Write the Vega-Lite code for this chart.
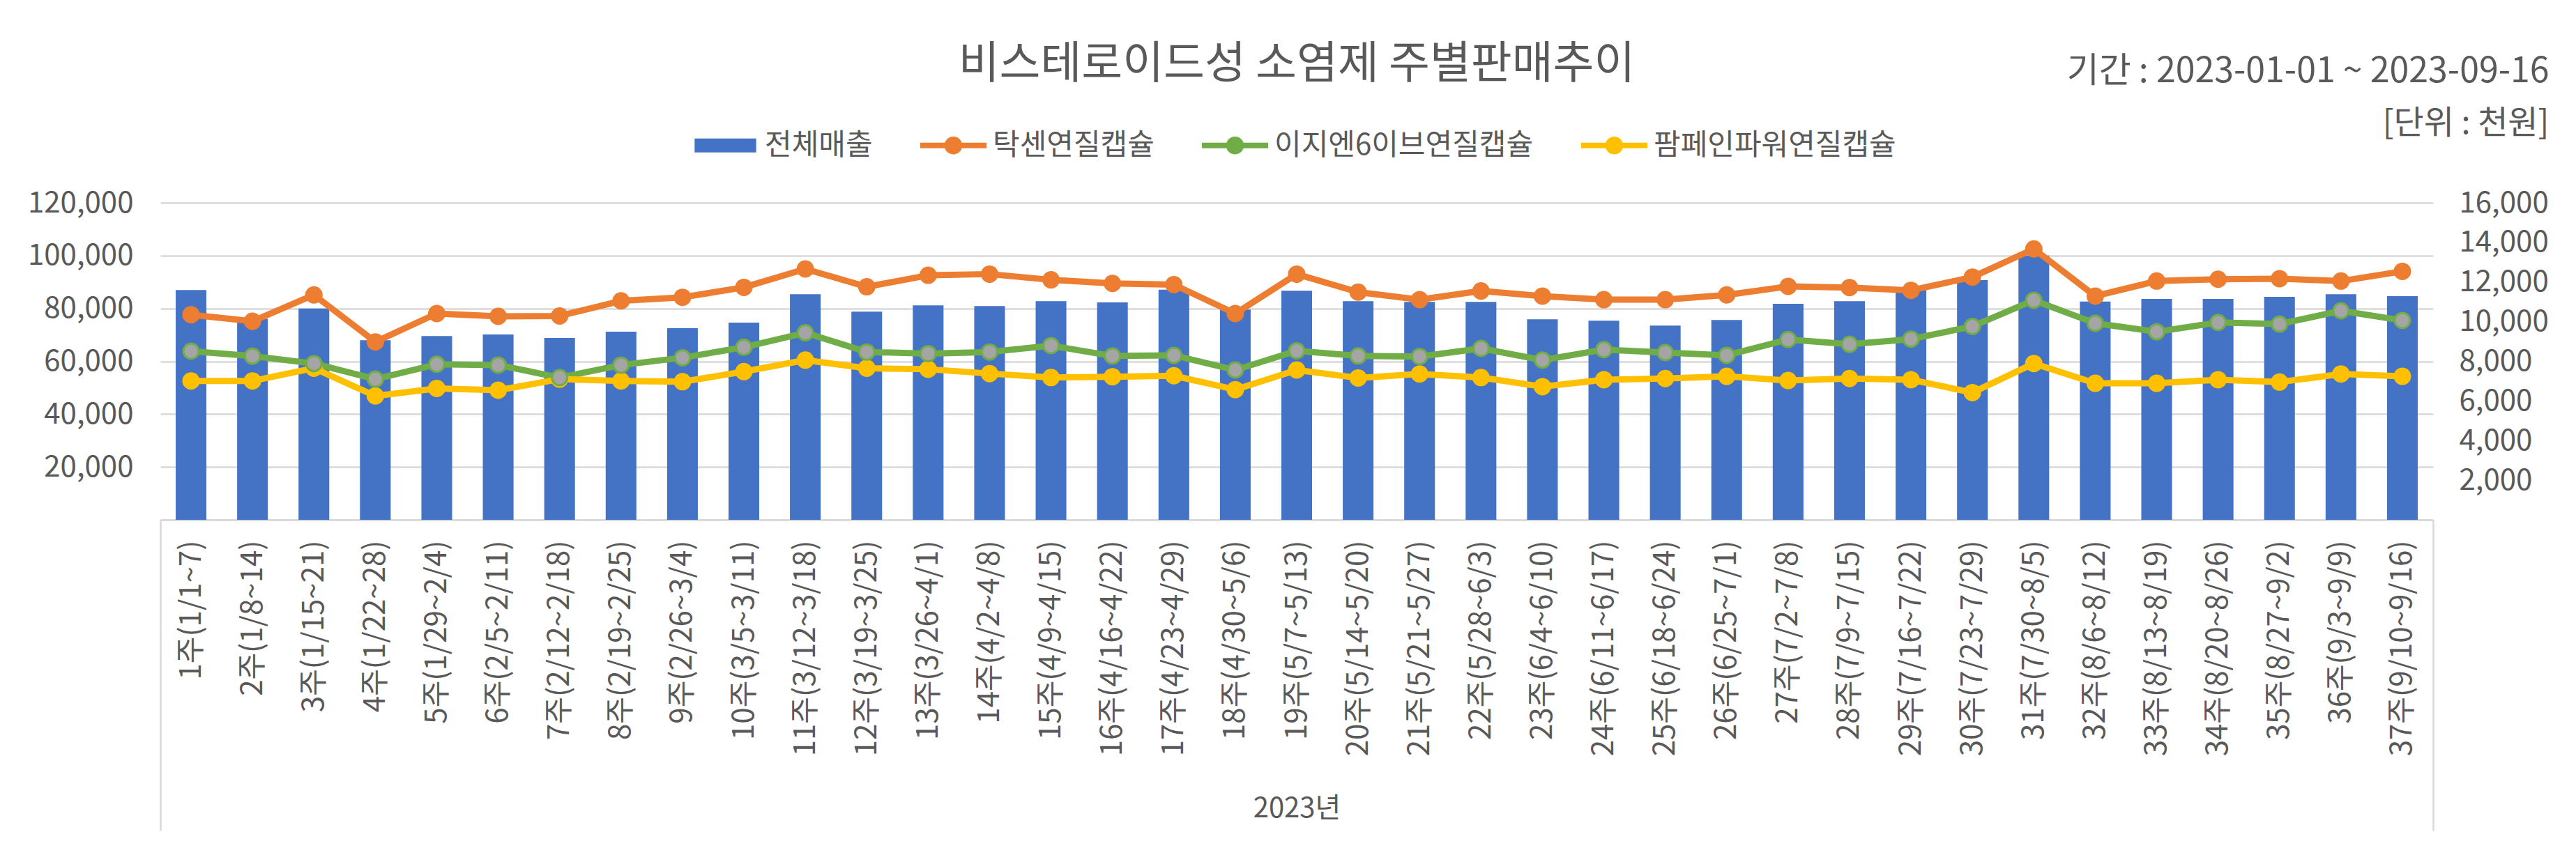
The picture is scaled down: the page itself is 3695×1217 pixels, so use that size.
{
  "$schema": "https://vega.github.io/schema/vega-lite/v6.json",
  "autosize": "none",
  "width": 3260,
  "height": 455,
  "padding": {"left": 230, "top": 291, "right": 205, "bottom": 471},
  "background": "white",
  "title": {"text": "비스테로이드성 소염제 주별판매추이", "fontSize": 64, "fontWeight": "normal", "color": "#595959", "anchor": "middle", "font": "Noto Sans CJK KR", "dy": 52},
  "config": {
    "font": "Noto Sans CJK KR",
    "view": {"stroke": null},
    "axis": {"labelColor": "#595959", "titleColor": "#595959", "titleFontWeight": "normal", "labelFont": "Noto Sans CJK KR", "titleFont": "Noto Sans CJK KR"}
  },
  "data": {"values": [
    {"주차": "1주(1/1~7)", "전체매출": 87000, "탁센연질캡슐": 10350, "이지엔6이브연질캡슐": 8510, "팜페인파워연질캡슐": 7010},
    {"주차": "2주(1/8~14)", "전체매출": 76100, "탁센연질캡슐": 10020, "이지엔6이브연질캡슐": 8260, "팜페인파워연질캡슐": 7010},
    {"주차": "3주(1/15~21)", "전체매출": 80000, "탁센연질캡슐": 11350, "이지엔6이브연질캡슐": 7890, "팜페인파워연질캡슐": 7650},
    {"주차": "4주(1/22~28)", "전체매출": 67960, "탁센연질캡슐": 8980, "이지엔6이브연질캡슐": 7100, "팜페인파워연질캡슐": 6250},
    {"주차": "5주(1/29~2/4)", "전체매출": 69550, "탁센연질캡슐": 10410, "이지엔6이브연질캡슐": 7850, "팜페인파워연질캡슐": 6630},
    {"주차": "6주(2/5~2/11)", "전체매출": 70150, "탁센연질캡슐": 10270, "이지엔6이브연질캡슐": 7810, "팜페인파워연질캡슐": 6540},
    {"주차": "7주(2/12~2/18)", "전체매출": 68830, "탁센연질캡슐": 10290, "이지엔6이브연질캡슐": 7180, "팜페인파워연질캡슐": 7100},
    {"주차": "8주(2/19~2/25)", "전체매출": 71200, "탁센연질캡슐": 11050, "이지엔6이브연질캡슐": 7810, "팜페인파워연질캡슐": 7010},
    {"주차": "9주(2/26~3/4)", "전체매출": 72530, "탁센연질캡슐": 11230, "이지엔6이브연질캡슐": 8180, "팜페인파워연질캡슐": 6970},
    {"주차": "10주(3/5~3/11)", "전체매출": 74640, "탁센연질캡슐": 11730, "이지엔6이브연질캡슐": 8710, "팜페인파워연질캡슐": 7480},
    {"주차": "11주(3/12~3/18)", "전체매출": 85360, "탁센연질캡슐": 12660, "이지엔6이브연질캡슐": 9440, "팜페인파워연질캡슐": 8060},
    {"주차": "12주(3/19~3/25)", "전체매출": 78770, "탁센연질캡슐": 11760, "이지엔6이브연질캡슐": 8470, "팜페인파워연질캡슐": 7650},
    {"주차": "13주(3/26~4/1)", "전체매출": 81150, "탁센연질캡슐": 12340, "이지엔6이브연질캡슐": 8390, "팜페인파워연질캡슐": 7600},
    {"주차": "14주(4/2~4/8)", "전체매출": 80880, "탁센연질캡슐": 12400, "이지엔6이브연질캡슐": 8470, "팜페인파워연질캡슐": 7380},
    {"주차": "15주(4/9~4/15)", "전체매출": 82730, "탁센연질캡슐": 12110, "이지엔6이브연질캡슐": 8790, "팜페인파워연질캡슐": 7180},
    {"주차": "16주(4/16~4/22)", "전체매출": 82290, "탁센연질캡슐": 11930, "이지엔6이브연질캡슐": 8270, "팜페인파워연질캡슐": 7220},
    {"주차": "17주(4/23~4/29)", "전체매출": 87120, "탁센연질캡슐": 11870, "이지엔6이브연질캡슐": 8300, "팜페인파워연질캡슐": 7270},
    {"주차": "18주(4/30~5/6)", "전체매출": 79560, "탁센연질캡슐": 10410, "이지엔6이브연질캡슐": 7560, "팜페인파워연질캡슐": 6570},
    {"주차": "19주(5/7~5/13)", "전체매출": 86680, "탁센연질캡슐": 12400, "이지엔6이브연질캡슐": 8530, "팜페인파워연질캡슐": 7560},
    {"주차": "20주(5/14~5/20)", "전체매출": 82730, "탁센연질캡슐": 11490, "이지엔6이브연질캡슐": 8270, "팜페인파워연질캡슐": 7160},
    {"주차": "21주(5/21~5/27)", "전체매출": 82500, "탁센연질캡슐": 11110, "이지엔6이브연질캡슐": 8240, "팜페인파워연질캡슐": 7360},
    {"주차": "22주(5/28~6/3)", "전체매출": 82470, "탁센연질캡슐": 11550, "이지엔6이브연질캡슐": 8650, "팜페인파워연질캡슐": 7180},
    {"주차": "23주(6/4~6/10)", "전체매출": 75870, "탁센연질캡슐": 11290, "이지엔6이브연질캡슐": 8060, "팜페인파워연질캡슐": 6720},
    {"주차": "24주(6/11~6/17)", "전체매출": 75340, "탁센연질캡슐": 11110, "이지엔6이브연질캡슐": 8590, "팜페인파워연질캡슐": 7070},
    {"주차": "25주(6/18~6/24)", "전체매출": 73490, "탁센연질캡슐": 11110, "이지엔6이브연질캡슐": 8440, "팜페인파워연질캡슐": 7130},
    {"주차": "26주(6/25~7/1)", "전체매출": 75600, "탁센연질캡슐": 11350, "이지엔6이브연질캡슐": 8300, "팜페인파워연질캡슐": 7240},
    {"주차": "27주(7/2~7/8)", "전체매출": 81760, "탁센연질캡슐": 11780, "이지엔6이브연질캡슐": 9100, "팜페인파워연질캡슐": 7030},
    {"주차": "28주(7/9~7/15)", "전체매출": 82730, "탁센연질캡슐": 11720, "이지엔6이브연질캡슐": 8860, "팜페인파워연질캡슐": 7130},
    {"주차": "29주(7/16~7/22)", "전체매출": 87740, "탁센연질캡슐": 11580, "이지엔6이브연질캡슐": 9120, "팜페인파워연질캡슐": 7070},
    {"주차": "30주(7/23~7/29)", "전체매출": 90725, "탁센연질캡슐": 12250, "이지엔6이브연질캡슐": 9760, "팜페인파워연질캡슐": 6420},
    {"주차": "31주(7/30~8/5)", "전체매출": 100040, "탁센연질캡슐": 13670, "이지엔6이브연질캡슐": 11080, "팜페인파워연질캡슐": 7890},
    {"주차": "32주(8/6~8/12)", "전체매출": 82640, "탁센연질캡슐": 11290, "이지엔6이브연질캡슐": 9920, "팜페인파워연질캡슐": 6890},
    {"주차": "33주(8/13~8/19)", "전체매출": 83600, "탁센연질캡슐": 12050, "이지엔6이브연질캡슐": 9490, "팜페인파워연질캡슐": 6890},
    {"주차": "34주(8/20~8/26)", "전체매출": 83600, "탁센연질캡슐": 12140, "이지엔6이브연질캡슐": 9960, "팜페인파워연질캡슐": 7070},
    {"주차": "35주(8/27~9/2)", "전체매출": 84400, "탁센연질캡슐": 12170, "이지엔6이브연질캡슐": 9880, "팜페인파워연질캡슐": 6950},
    {"주차": "36주(9/3~9/9)", "전체매출": 85360, "탁센연질캡슐": 12050, "이지엔6이브연질캡슐": 10550, "팜페인파워연질캡슐": 7360},
    {"주차": "37주(9/10~9/16)", "전체매출": 84660, "탁센연질캡슐": 12540, "이지엔6이브연질캡슐": 10060, "팜페인파워연질캡슐": 7240}
  ]},
  "encoding": {
    "x": {
      "field": "주차", "type": "nominal", "sort": null,
      "scale": {"paddingInner": 0, "paddingOuter": 0},
      "axis": {
        "title": "2023년", "titleFontSize": 40, "titleX": 1630, "titleY": 414, "titleBaseline": "middle", "titleAlign": "center",
        "labelAngle": -90, "labelFontSize": 42, "labelPadding": -417, "labelLimit": 0, "labelOverlap": false,
        "tickBand": "extent", "tickSize": 446, "tickColor": "#D9D9D9", "tickWidth": 2.5,
        "tickOpacity": {"condition": {"test": "datum.index == 1 || datum.index == -1", "value": 1}, "value": 0},
        "domainColor": "#D9D9D9", "domainWidth": 2.5, "grid": false
      }
    }
  },
  "layer": [
    {
      "mark": {"type": "bar", "width": {"band": 0.5}, "color": "#4472C4"},
      "encoding": {
        "y": {
          "field": "전체매출", "type": "quantitative", "scale": {"domain": [0, 120000]},
          "axis": {
            "orient": "left", "values": [0, 20000, 40000, 60000, 80000, 100000, 120000],
            "labelExpr": "datum.value == 0 ? '' : format(datum.value, ',')",
            "labelFontSize": 42, "labelPadding": 39, "ticks": false, "domain": false,
            "grid": true, "gridColor": "#D9D9D9", "gridWidth": 2.5,
            "title": "기간 : 2023-01-01 ~ 2023-09-16", "titleAngle": 0, "titleAlign": "right", "titleBaseline": "middle",
            "titleX": 3426, "titleY": -189, "titleFontSize": 50
          }
        }
      }
    },
    {
      "transform": [{"fold": ["탁센연질캡슐", "이지엔6이브연질캡슐", "팜페인파워연질캡슐"], "as": ["series", "v"]}],
      "layer": [
        {
          "transform": [{"filter": "false"}],
          "mark": {"type": "point", "filled": true, "opacity": 1},
          "encoding": {
            "color": {
              "field": "series", "type": "nominal",
              "scale": {"domain": ["전체매출", "탁센연질캡슐", "이지엔6이브연질캡슐", "팜페인파워연질캡슐"], "range": ["#4472C4", "#ED7D31", "#70AD47", "#FFC000"]},
              "legend": {
                "title": null, "orient": "none", "legendX": 763, "legendY": -130, "direction": "horizontal",
                "symbolSize": 9025, "symbolStrokeWidth": 0, "symbolOpacity": 1,
                "labelFontSize": 42, "labelColor": "#595959", "labelFont": "Noto Sans CJK KR", "labelOffset": 9, "labelLimit": 0,
                "columnPadding": 68
              }
            },
            "shape": {
              "field": "series", "type": "nominal",
              "scale": {
                "domain": ["전체매출", "탁센연질캡슐", "이지엔6이브연질캡슐", "팜페인파워연질캡슐"],
                "range": [
                  "M-0.93,-0.21L0.93,-0.21L0.93,0.21L-0.93,0.21Z",
                  "M-1,-0.085L1,-0.085L1,0.085L-1,0.085Z M0.27,0A0.27,0.27 0 1,1 -0.27,0A0.27,0.27 0 1,1 0.27,0Z",
                  "M-1,-0.085L1,-0.085L1,0.085L-1,0.085Z M0.27,0A0.27,0.27 0 1,1 -0.27,0A0.27,0.27 0 1,1 0.27,0Z",
                  "M-1,-0.085L1,-0.085L1,0.085L-1,0.085Z M0.27,0A0.27,0.27 0 1,1 -0.27,0A0.27,0.27 0 1,1 0.27,0Z"
                ]
              },
              "legend": {
                "title": null, "orient": "none", "legendX": 763, "legendY": -130, "direction": "horizontal",
                "symbolSize": 9025, "symbolStrokeWidth": 0, "symbolOpacity": 1,
                "labelFontSize": 42, "labelColor": "#595959", "labelFont": "Noto Sans CJK KR", "labelOffset": 9, "labelLimit": 0,
                "columnPadding": 68
              }
            }
          }
        },
        {
          "mark": {"type": "line", "strokeWidth": 9, "strokeJoin": "round", "strokeCap": "round"},
          "encoding": {
            "y": {
              "field": "v", "type": "quantitative", "scale": {"domain": [0, 16000]},
              "axis": {
                "orient": "right", "values": [0, 2000, 4000, 6000, 8000, 10000, 12000, 14000, 16000],
                "labelExpr": "datum.value == 0 ? '' : format(datum.value, ',')",
                "labelFontSize": 42, "labelPadding": 37, "ticks": false, "domain": false, "grid": false,
                "title": "[단위 : 천원]", "titleAngle": 0, "titleAlign": "right", "titleBaseline": "middle",
                "titleX": 166, "titleY": -114, "titleFontSize": 47
              }
            },
            "color": {"field": "series", "type": "nominal", "legend": null}
          }
        },
        {
          "transform": [{"filter": "datum.series !== '이지엔6이브연질캡슐'"}],
          "mark": {"type": "point", "shape": "circle", "filled": true, "size": 625, "opacity": 1},
          "encoding": {
            "y": {"field": "v", "type": "quantitative"},
            "color": {"field": "series", "type": "nominal", "legend": null}
          }
        },
        {
          "transform": [{"filter": "datum.series === '이지엔6이브연질캡슐'"}],
          "mark": {"type": "point", "shape": "circle", "filled": true, "size": 484, "fill": "#A5A5A5", "stroke": "#70AD47", "strokeWidth": 3, "opacity": 1},
          "encoding": {
            "y": {"field": "v", "type": "quantitative"}
          }
        }
      ]
    }
  ],
  "resolve": {"scale": {"y": "independent"}}
}
